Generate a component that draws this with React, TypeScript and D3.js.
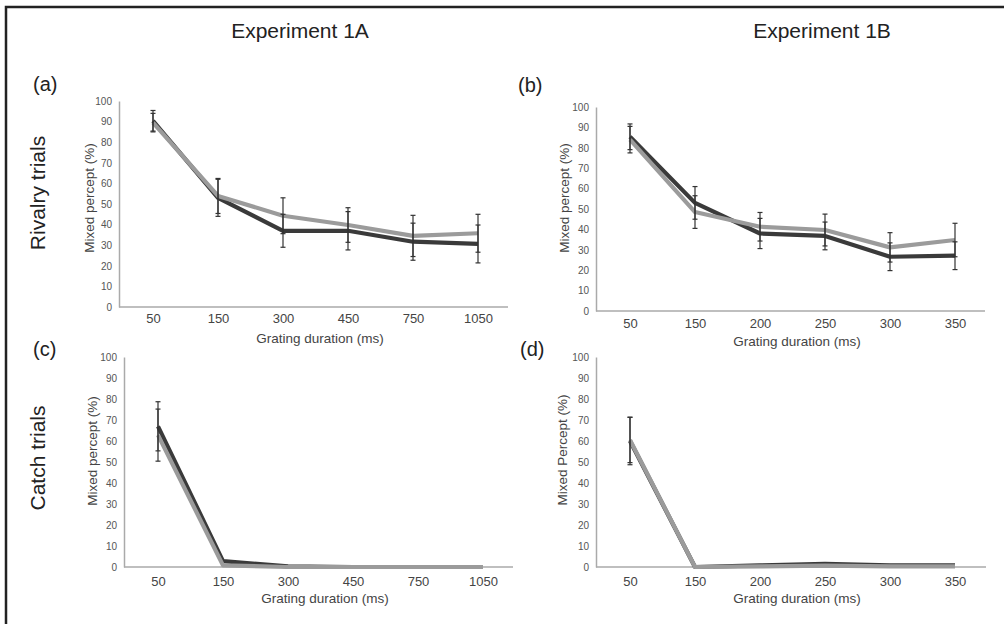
import { useEffect, useRef } from 'react';
import * as d3 from 'd3';

// Grating durations (ms)
const expACategories = ['50', '150', '300', '450', '750', '1050'];
const expBCategories = ['50', '150', '200', '250', '300', '350'];
const yTickValues = [0, 10, 20, 30, 40, 50, 60, 70, 80, 90, 100];

// Rivalry trials, Experiment 1A
const rivalryADark = [90.4, 53, 37, 37, 31.7, 30.6];
const rivalryADarkErr = [5, 9, 8, 9.3, 9, 9.2];
const rivalryAGray = [89.5, 53.9, 44.3, 39.8, 34.5, 35.8];
const rivalryAGrayErr = [4.5, 8.5, 8.7, 8.4, 10, 9.2];

// Rivalry trials, Experiment 1B
const rivalryBDark = [85.4, 53, 38, 36.8, 26.6, 27.1];
const rivalryBDarkErr = [6.3, 8, 7.4, 6.8, 6.8, 6.8];
const rivalryBGray = [84, 48.5, 41.3, 39.7, 31.2, 34.8];
const rivalryBGrayErr = [6.5, 8, 7, 7.8, 7.2, 8.2];

// Catch trials, Experiment 1A
const catchADark = [67, 2.8, 0.3, 0, 0, 0];
const catchADarkErr = [11.7, 0, 0, 0, 0, 0];
const catchAGray = [62.8, 0.8, 0, 0, 0, 0];
const catchAGrayErr = [12.4, 0, 0, 0, 0, 0];

// Catch trials, Experiment 1B
const catchBDark = [60, 0, 0.8, 1.5, 0.8, 0.8];
const catchBDarkErr = [11.3, 0, 0, 0, 0, 0];
const catchBGray = [60.5, 0, 0.3, 0.7, 0.3, 0.3];
const catchBGrayErr = [10.8, 0, 0, 0, 0, 0];

const FONT = '"Liberation Sans", Arial, Helvetica, sans-serif';
const DARK = '#3a3a3a';
const GRAY = '#9b9b9b';

export default function App() {
  const svgRef = useRef<SVGSVGElement | null>(null);

  useEffect(() => {
    if (!svgRef.current) return;
    const svg = d3.select(svgRef.current);
    svg.selectAll('*').remove();

    const panels = [
      { letter: '(a)', lx: 33, ly: 91, cats: expACategories, dark: rivalryADark, darkErr: rivalryADarkErr, gray: rivalryAGray, grayErr: rivalryAGrayErr,
        x0: 119, x1: 508, yTop: 101, yBot: 307, yLabel: 'Mixed percept (%)', yLabelX: 94, yLabelY: 198, xTickY: 323, xLabelY: 343 },
      { letter: '(b)', lx: 518, ly: 92, cats: expBCategories, dark: rivalryBDark, darkErr: rivalryBDarkErr, gray: rivalryBGray, grayErr: rivalryBGrayErr,
        x0: 596, x1: 985, yTop: 107, yBot: 311, yLabel: 'Mixed percept (%)', yLabelX: 569, yLabelY: 198, xTickY: 328, xLabelY: 346 },
      { letter: '(c)', lx: 33, ly: 356, cats: expACategories, dark: catchADark, darkErr: catchADarkErr, gray: catchAGray, grayErr: catchAGrayErr,
        x0: 124, x1: 513, yTop: 357, yBot: 567, yLabel: 'Mixed percept (%)', yLabelX: 97, yLabelY: 451, xTickY: 586, xLabelY: 603 },
      { letter: '(d)', lx: 520, ly: 356, cats: expBCategories, dark: catchBDark, darkErr: catchBDarkErr, gray: catchBGray, grayErr: catchBGrayErr,
        x0: 596, x1: 986, yTop: 357, yBot: 567, yLabel: 'Mixed Percept (%)', yLabelX: 567, yLabelY: 450, xTickY: 586, xLabelY: 603 },
    ];

    // Frame
    svg.append('path')
      .attr('d', 'M6,624V7H1004')
      .attr('fill', 'none')
      .attr('stroke', '#222')
      .attr('stroke-width', 2.5);

    // Column titles
    [['Experiment 1A', 300], ['Experiment 1B', 822]].forEach(([t, x]) => {
      svg.append('text')
        .attr('x', x).attr('y', 38)
        .attr('text-anchor', 'middle')
        .attr('font-family', FONT)
        .attr('font-size', '21px')
        .attr('fill', '#222')
        .text(t as string);
    });

    // Row labels
    [['Rivalry trials', 193], ['Catch trials', 458]].forEach(([t, y]) => {
      svg.append('text')
        .attr('transform', `translate(45,${y}) rotate(-90)`)
        .attr('text-anchor', 'middle')
        .attr('font-family', FONT)
        .attr('font-size', '21px')
        .attr('fill', '#222')
        .text(t as string);
    });

    panels.forEach((p) => {
      const g = svg.append('g');

      const x = d3.scalePoint<string>().domain(p.cats).range([p.x0 + 34, p.x0 + 359]);
      const y = d3.scaleLinear().domain([0, 100]).range([p.yBot, p.yTop]);

      // Panel letter
      g.append('text')
        .attr('x', p.lx).attr('y', p.ly)
        .attr('font-family', FONT)
        .attr('font-size', '20px')
        .attr('fill', '#222')
        .text(p.letter);

      // Y axis
      const yAxis = g.append('g')
        .attr('transform', `translate(${p.x0},0)`)
        .call(d3.axisLeft(y).tickValues(yTickValues).tickSize(0).tickPadding(7));
      yAxis.select('.domain').attr('stroke', '#aaa').attr('stroke-width', 1.5);
      yAxis.selectAll('text')
        .attr('font-family', FONT)
        .attr('font-size', '10px')
        .attr('fill', '#555');

      // X axis
      const xAxis = g.append('g')
        .attr('transform', `translate(0,${p.yBot})`)
        .call(d3.axisBottom(x).tickSize(0).tickPadding(0));
      xAxis.select('.domain').remove();
      xAxis.selectAll('text')
        .attr('y', p.xTickY - p.yBot)
        .attr('dy', 0)
        .attr('font-family', FONT)
        .attr('font-size', '13px')
        .attr('fill', '#444');
      g.append('line')
        .attr('x1', p.x0).attr('x2', p.x1)
        .attr('y1', p.yBot).attr('y2', p.yBot)
        .attr('stroke', '#aaa')
        .attr('stroke-width', 1.5);

      // Axis titles
      g.append('text')
        .attr('x', p.x0 + 201).attr('y', p.xLabelY)
        .attr('text-anchor', 'middle')
        .attr('font-family', FONT)
        .attr('font-size', '13.5px')
        .attr('fill', '#444')
        .text('Grating duration (ms)');
      g.append('text')
        .attr('transform', `translate(${p.yLabelX},${p.yLabelY}) rotate(-90)`)
        .attr('text-anchor', 'middle')
        .attr('font-family', FONT)
        .attr('font-size', '13.5px')
        .attr('fill', '#444')
        .text(p.yLabel);

      // Lines
      const line = d3.line<number>()
        .x((_, i) => x(p.cats[i]) as number)
        .y((d) => y(d));

      [[p.dark, DARK], [p.gray, GRAY]].forEach(([vals, color]) => {
        g.append('path')
          .datum(vals as number[])
          .attr('fill', 'none')
          .attr('stroke', color as string)
          .attr('stroke-width', 4.2)
          .attr('stroke-linejoin', 'round')
          .attr('d', line);
      });

      // Error bars
      [[p.dark, p.darkErr], [p.gray, p.grayErr]].forEach(([vals, errs]) => {
        (vals as number[]).forEach((v, i) => {
          const e = (errs as number[])[i];
          if (!e) return;
          const cx = x(p.cats[i]) as number;
          const eb = g.append('g').attr('stroke', '#333').attr('stroke-width', 1.2);
          eb.append('line').attr('x1', cx).attr('x2', cx).attr('y1', y(v - e)).attr('y2', y(v + e));
          eb.append('line').attr('x1', cx - 2.5).attr('x2', cx + 2.5).attr('y1', y(v - e)).attr('y2', y(v - e));
          eb.append('line').attr('x1', cx - 2.5).attr('x2', cx + 2.5).attr('y1', y(v + e)).attr('y2', y(v + e));
        });
      });
    });
  }, []);

  return (
    <svg
      ref={svgRef}
      width={1004}
      height={624}
      style={{ position: 'absolute', left: 0, top: 0, background: '#fff' }}
    />
  );
}
